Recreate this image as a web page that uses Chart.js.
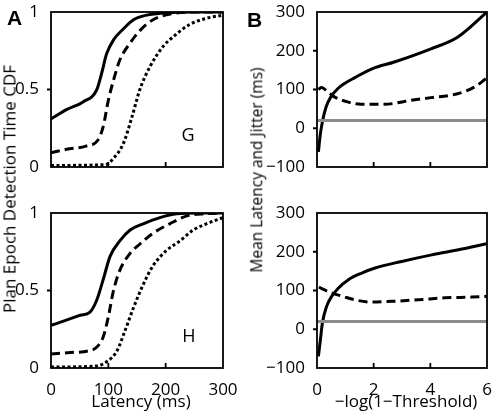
<!DOCTYPE html>
<html>
<head>
<meta charset="utf-8">
<script src="https://cdn.jsdelivr.net/npm/chart.js@4.4.0/dist/chart.umd.min.js"></script>
<style>
body { margin: 0; background: #fff; }
#wrap { position: relative; width: 494px; height: 412px; overflow: hidden; font-family: 'Open Sans', sans-serif; color: #000; }
canvas { position: absolute; }
.lbl { position: absolute; white-space: nowrap; line-height: 1; font-size: 17px; transform: translate(-50%, -50%); }
.vt { transform: translate(-50%, -50%) rotate(-90deg); }
.letter { position: absolute; font-family: 'Liberation Sans', Arial, sans-serif; font-weight: bold; font-size: 21px; line-height: 1; }
</style>
</head>
<body>
<div id="wrap">
  <canvas id="c-tl" width="245" height="200" style="left:0;top:0;"></canvas>
  <canvas id="c-bl" width="245" height="212" style="left:0;top:200px;"></canvas>
  <canvas id="c-tr" width="249" height="200" style="left:245px;top:0;"></canvas>
  <canvas id="c-br" width="249" height="212" style="left:245px;top:200px;"></canvas>
  <div class="letter" style="left:7px;top:7px;">A</div>
  <div class="letter" style="left:247px;top:9px;">B</div>
  <div class="lbl" style="left:188px;top:134px;font-size:18px;">G</div>
  <div class="lbl" style="left:189px;top:335px;font-size:18px;">H</div>
  <div class="lbl vt" style="left:9px;top:189px;">Plan Epoch Detection Time CDF</div>
  <div class="lbl vt" style="left:257px;top:170px;font-size:15.5px;">Mean Latency and Jitter (ms)</div>
  <div class="lbl" style="left:141px;top:400px;">Latency (ms)</div>
  <div class="lbl" style="left:406px;top:400px;">&minus;log(1&minus;Threshold)</div>
</div>
<script>
// CDF curves, panel G (latency in ms, cumulative fraction)
const gSolidX = [0, 27, 56, 80, 88, 97, 109, 126, 144, 167, 200, 250, 300];
const gSolidY = [0.31, 0.37, 0.42, 0.50, 0.60, 0.73, 0.82, 0.89, 0.95, 0.98, 0.995, 1, 1];
const gDashX = [0, 27, 61, 82, 91, 100, 109, 120, 138, 155, 178, 213, 250, 300];
const gDashY = [0.092, 0.114, 0.135, 0.174, 0.26, 0.43, 0.56, 0.69, 0.80, 0.88, 0.95, 0.99, 1, 1];
const gDotX = [0, 95, 109, 126, 141, 155, 173, 196, 213, 242, 272, 300];
const gDotY = [0.01, 0.015, 0.056, 0.15, 0.32, 0.50, 0.65, 0.78, 0.84, 0.92, 0.96, 0.98];

// CDF curves, panel H
const hSolidX = [0, 28, 51, 68, 80, 91, 103, 120, 138, 161, 190, 219, 260, 300];
const hSolidY = [0.275, 0.31, 0.34, 0.36, 0.44, 0.57, 0.72, 0.82, 0.89, 0.93, 0.97, 0.995, 1, 1];
const hDashX = [0, 34, 65, 80, 91, 100, 109, 120, 138, 155, 178, 207, 236, 270, 300];
const hDashY = [0.09, 0.10, 0.11, 0.135, 0.20, 0.33, 0.50, 0.63, 0.74, 0.80, 0.87, 0.93, 0.98, 0.995, 1];
const hDotX = [0, 80, 97, 115, 129, 144, 161, 178, 202, 225, 248, 271, 300];
const hDotY = [0.006, 0.013, 0.04, 0.11, 0.24, 0.39, 0.54, 0.66, 0.76, 0.82, 0.89, 0.93, 0.97];

// Mean latency (solid) and jitter (dashed) vs -log(1-threshold)
const gLatX = [0.05, 0.12, 0.2, 0.32, 0.49, 0.73, 0.96, 1.32, 1.96, 2.73, 4.02, 4.96, 6.0];
const gLatY = [-61, -14, 20, 55, 81, 102, 115, 130, 154, 171, 205, 235, 300];
const gJitX = [0.05, 0.16, 0.38, 0.61, 1.08, 1.55, 2.38, 3.32, 4.02, 4.96, 5.55, 6.0];
const gJitY = [100, 105, 94, 81, 68, 62, 62, 72, 79, 89, 106, 130];
const hLatX = [0.05, 0.12, 0.19, 0.34, 0.52, 0.75, 1.11, 1.58, 2.05, 2.99, 4.05, 4.99, 6.0];
const hLatY = [-70, -27, 16, 59, 85, 106, 128, 145, 158, 175, 192, 205, 221];
const hJitX = [0.07, 0.19, 0.52, 0.99, 1.46, 1.93, 2.64, 3.58, 4.52, 5.46, 6.0];
const hJitY = [109, 104, 94, 83, 74, 70, 72, 76, 81, 83, 85];

// gray reference level
const refX = [0, 6];
const refY = [20, 20];

Chart.defaults.font.family = "'Open Sans', sans-serif";
Chart.defaults.font.size = 17;
Chart.defaults.color = '#000';

function pts(xs, ys) {
    return xs.map((x, i) => ({ x: x, y: ys[i] }));
}

function curve(xs, ys, style) {
    const ds = {
        data: pts(xs, ys),
        borderColor: '#000',
        borderWidth: 3,
        pointRadius: 0,
        fill: false,
        cubicInterpolationMode: 'monotone'
    };
    if (style === 'dash') { ds.borderDash = [9, 5]; }
    if (style === 'dot') { ds.borderDash = [3, 2.5]; }
    if (style === 'gray') { ds.borderColor = '#8c8c8c'; ds.cubicInterpolationMode = 'default'; }
    return ds;
}

// box outline, inward x ticks, outward y ticks
const framePlugin = {
    id: 'boxFrame',
    afterDraw(chart) {
        const ctx = chart.ctx;
        const a = chart.chartArea;
        const xs = chart.scales.x;
        const ys = chart.scales.y;
        ctx.save();
        ctx.setLineDash([]);
        ctx.strokeStyle = '#000';
        ctx.lineWidth = 1.8;
        ctx.strokeRect(a.left, a.top, a.right - a.left, a.bottom - a.top);
        ctx.beginPath();
        xs.ticks.forEach(t => {
            const p = xs.getPixelForValue(t.value);
            if (p > a.left + 2 && p < a.right - 2) { ctx.moveTo(p, a.bottom); ctx.lineTo(p, a.bottom - 5); }
        });
        ys.ticks.forEach(t => {
            const p = ys.getPixelForValue(t.value);
            if (p > a.top + 2 && p < a.bottom - 2) { ctx.moveTo(a.left, p); ctx.lineTo(a.left - 4, p); }
        });
        ctx.stroke();
        ctx.restore();
    }
};

// cv: canvas box on the page, box: plot area on the page
function makePanel(id, cv, box, xr, yr, datasets) {
    const left = box.left - cv.x;
    const top = box.top - cv.y;
    const right = box.right - cv.x;
    const bottom = box.bottom - cv.y;
    new Chart(document.getElementById(id), {
        type: 'line',
        data: { datasets: datasets },
        options: {
            responsive: false,
            animation: false,
            events: [],
            layout: { padding: { left: left - box.axisW, top: top, right: cv.w - right, bottom: 0 } },
            plugins: { legend: { display: false }, tooltip: { enabled: false } },
            scales: {
                x: {
                    type: 'linear', min: xr.min, max: xr.max,
                    ticks: { stepSize: xr.step, display: xr.labels, padding: 4, maxRotation: 0, autoSkip: false },
                    grid: { display: false },
                    border: { display: false },
                    afterFit: s => { s.height = cv.h - bottom; s.paddingLeft = 0; s.paddingRight = 0; }
                },
                y: {
                    type: 'linear', min: yr.min, max: yr.max,
                    ticks: {
                        stepSize: yr.step, padding: 4, autoSkip: false,
                        callback: v => v < 0 ? '\u2212' + Math.abs(v) : String(v)
                    },
                    grid: { display: false },
                    border: { display: false },
                    afterFit: s => { s.width = box.axisW; s.paddingTop = 0; s.paddingBottom = 0; }
                }
            }
        },
        plugins: [framePlugin]
    });
}

const cdfY = { min: 0, max: 1, step: 0.5 };
const msY = { min: -100, max: 300, step: 100 };

makePanel('c-tl', { x: 0, y: 0, w: 245, h: 200 }, { left: 51, top: 12, right: 223, bottom: 167, axisW: 51 },
    { min: 0, max: 300, step: 100, labels: false }, cdfY,
    [curve(gSolidX, gSolidY), curve(gDashX, gDashY, 'dash'), curve(gDotX, gDotY, 'dot')]);

makePanel('c-bl', { x: 0, y: 200, w: 245, h: 212 }, { left: 51, top: 213, right: 223, bottom: 368, axisW: 51 },
    { min: 0, max: 300, step: 100, labels: true }, cdfY,
    [curve(hSolidX, hSolidY), curve(hDashX, hDashY, 'dash'), curve(hDotX, hDotY, 'dot')]);

makePanel('c-tr', { x: 245, y: 0, w: 249, h: 200 }, { left: 317, top: 12, right: 487, bottom: 167, axisW: 57 },
    { min: 0, max: 6, step: 2, labels: false }, msY,
    [curve(refX, refY, 'gray'), curve(gLatX, gLatY), curve(gJitX, gJitY, 'dash')]);

makePanel('c-br', { x: 245, y: 200, w: 249, h: 212 }, { left: 317, top: 213, right: 487, bottom: 368, axisW: 57 },
    { min: 0, max: 6, step: 2, labels: true }, msY,
    [curve(refX, refY, 'gray'), curve(hLatX, hLatY), curve(hJitX, hJitY, 'dash')]);
</script>
</body>
</html>
